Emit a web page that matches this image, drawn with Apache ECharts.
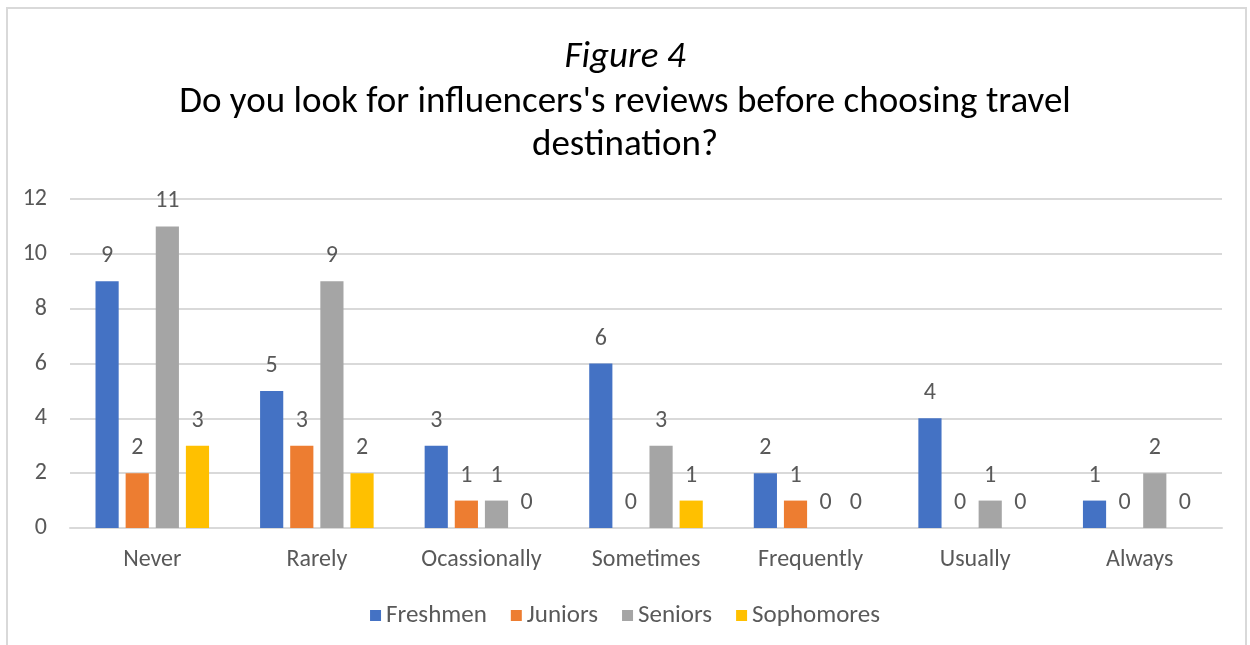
<!DOCTYPE html>
<html>
<head>
<meta charset="utf-8">
<script src="https://cdn.jsdelivr.net/npm/echarts@6/dist/echarts.min.js"></script>
<style>
html,body{margin:0;padding:0;background:#fff;}
#wrap{position:absolute;left:0;top:0;width:1250px;height:645px;overflow:hidden;}
#frame{position:absolute;left:6px;top:7px;width:1241px;height:700px;border:2px solid #d9d9d9;box-sizing:border-box;}
#chart{position:absolute;left:0;top:0;width:1250px;height:645px;}
</style>
</head>
<body>
<div id="wrap"><div id="frame"></div><div id="chart"></div></div>
<script>
const categories = ['Never','Rarely','Ocassionally','Sometimes','Frequently','Usually','Always'];
const freshmen   = [9,5,3,6,2,4,1];
const juniors    = [2,3,1,0,1,0,0];
const seniors    = [11,9,1,3,0,1,2];
const sophomores = [3,2,0,1,0,0,0];
const seriesNames = ['Freshmen','Juniors','Seniors','Sophomores'];
const colors = ['#4472C4','#ED7D31','#A5A5A5','#FFC000'];
const yTicks = [0,2,4,6,8,10,12];
const titleLines = ['Figure 4', "Do you look for influencers's reviews before choosing travel", 'destination?'];

const font = 'Carlito, "Open Sans", "Liberation Sans", sans-serif';
const chart = echarts.init(document.getElementById('chart'), null, {renderer:'canvas'});
const data = [freshmen, juniors, seniors, sophomores];
const TF = 37;
const centers = [59, 104, 147];
chart.setOption({
  animation:false,
  color: colors,
  textStyle:{fontFamily:font},
  title: titleLines.map((t,i)=>({
    text:t, left:'center', top:centers[i]-TF/2-1, padding:0,
    textStyle:{fontFamily:font, fontSize:TF, fontStyle: i===0?'italic':'normal', fontWeight:'normal', color:'#000', lineHeight:TF}
  })),
  legend:{
    top:598, left:'center', itemWidth:11, itemHeight:11, itemGap:24, icon:'rect',
    textStyle:{fontFamily:font, fontSize:25, color:'#595959'},
    data: seriesNames
  },
  grid:{left:70, right:28, top:199, bottom:117, containLabel:false},
  xAxis:{
    type:'category', data:categories,
    axisLine:{lineStyle:{color:'#d9d9d9', width:2}},
    axisTick:{show:false},
    axisLabel:{fontFamily:font, fontSize:24, color:'#595959', margin:20}
  },
  yAxis:{
    type:'value', min:yTicks[0], max:yTicks[yTicks.length-1], interval:2,
    axisLine:{show:false}, axisTick:{show:false},
    axisLabel:{fontFamily:font, fontSize:24, color:'#595959', margin:23},
    splitLine:{lineStyle:{color:'#d9d9d9', width:2}}
  },
  series: seriesNames.map((n,i)=>({
    name:n, type:'bar', data:data[i],
    barGap:'30%', barCategoryGap:'31%',
    label:{show:true, position:'top', distance:13, fontFamily:font, fontSize:24, color:'#595959'}
  }))
});
</script>
</body>
</html>
